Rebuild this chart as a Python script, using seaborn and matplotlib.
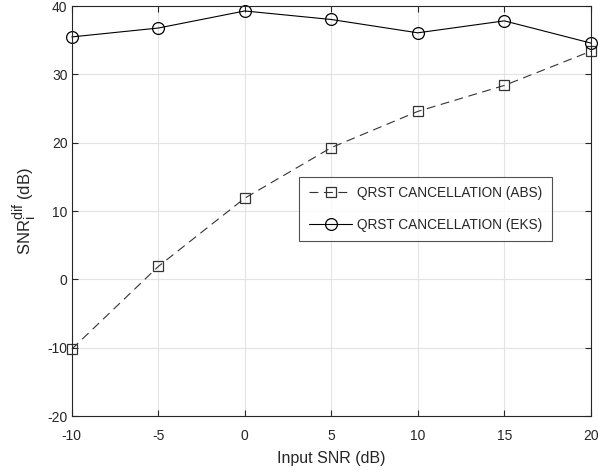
import matplotlib
matplotlib.use("Agg")
import matplotlib.pyplot as plt
import seaborn as sns
import pandas as pd
try:
    import matplotlib._mathtext as _mt
    _mt.SHRINK_FACTOR = 0.85
except Exception:
    pass

snr_in = [-10, -5, 0, 5, 10, 15, 20]
abs_vals = [-10.2, 1.9, 11.9, 19.3, 24.6, 28.4, 33.4]
eks_vals = [35.5, 36.8, 39.3, 38.05, 36.1, 37.85, 34.6]
label_abs = "QRST CANCELLATION (ABS)"
label_eks = "QRST CANCELLATION (EKS)"
xticks = [-10, -5, 0, 5, 10, 15, 20]
yticks = [-20, -10, 0, 10, 20, 30, 40]

sns.set_style("white")
plt.rcParams['font.family'] = ['Liberation Sans', 'DejaVu Sans']
plt.rcParams['mathtext.fontset'] = 'custom'
plt.rcParams['mathtext.rm'] = 'Liberation Sans'
plt.rcParams['mathtext.it'] = 'Liberation Sans'

df_abs = pd.DataFrame({"x": snr_in, "y": abs_vals})
df_eks = pd.DataFrame({"x": snr_in, "y": eks_vals})

fig = plt.figure(figsize=(5.98, 4.75), dpi=100)
ax = fig.add_axes([0.120, 0.124, 0.868, 0.863])

sns.lineplot(data=df_abs, x="x", y="y", ax=ax, color="#333333", linewidth=0.8,
             linestyle=(0, (8, 5)), marker="s", markersize=7.5, markerfacecolor="none",
             markeredgecolor="#333333", markeredgewidth=0.9, label=label_abs, clip_on=False)
sns.lineplot(data=df_eks, x="x", y="y", ax=ax, color="black", linewidth=0.8,
             marker="o", markersize=8.5, markerfacecolor="none",
             markeredgecolor="black", markeredgewidth=0.9, label=label_eks, clip_on=False)

ax.set_xlim(-10, 20)
ax.set_ylim(-20, 40)
ax.set_xticks(xticks)
ax.set_yticks(yticks)
ax.set_xticklabels([str(t) for t in xticks])
ax.set_yticklabels([str(t) for t in yticks])
ax.grid(True, color="#e3e3e3", linewidth=0.8)
ax.set_axisbelow(True)
for s in ax.spines.values():
    s.set_color("#262626")
    s.set_linewidth(0.8)
ax.tick_params(direction="in", length=4, width=0.8, colors="#262626", labelsize=10,
               top=True, right=True, bottom=True, left=True, pad=3)
ax.tick_params(axis="x", pad=9)
ax.set_xlabel("Input SNR (dB)", fontsize=11.5, color="#262626", labelpad=6)
ax.set_ylabel(r"SNR$_{\mathrm{i}}^{\mathrm{dif}}$ (dB)", fontsize=12, color="#262626", labelpad=6)

leg = ax.legend(loc="upper right", bbox_to_anchor=(0.925, 0.584), fontsize=9.8,
                frameon=True, fancybox=False, edgecolor="#262626", handlelength=3.2,
                borderpad=0.7, labelspacing=1.3, handletextpad=0.35, borderaxespad=0)
leg.get_frame().set_linewidth(0.8)

fig.savefig("out.png", dpi=100)
